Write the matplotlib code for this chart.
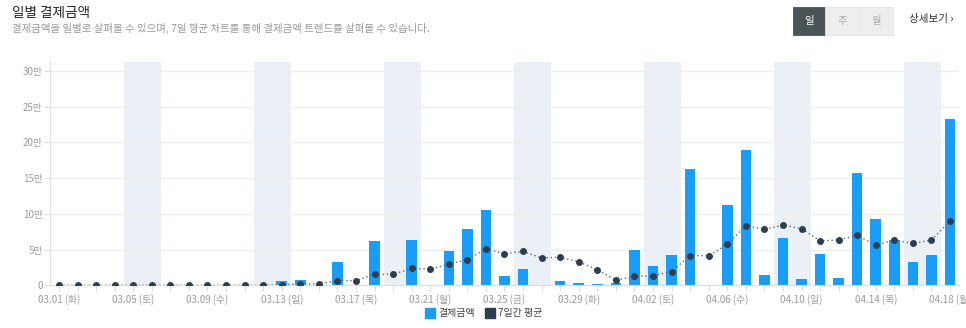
import matplotlib
matplotlib.use("Agg")
import matplotlib.pyplot as plt
from matplotlib.patches import Rectangle
from matplotlib.lines import Line2D
import pandas as pd

plt.rcParams['font.family'] = ['Noto Sans CJK KR', 'DejaVu Sans']

# ---- data -------------------------------------------------------------
start_date = "2022-03-01"
end_date = "2022-04-18"
weekday_names = ["월", "화", "수", "목", "금", "토", "일"]

# daily payment amount (원)
daily_amount = [0, 0, 0, 0, 0, 0, 0, 0, 0, 0, 0, 0,
                6000, 7400, 0, 32700, 0, 62000, 0, 63500, 0, 48000,
                78900, 105500, 13000, 22900, 0, 6500, 3700, 1400, 3700,
                49500, 27500, 42500, 163300, 1000, 112000, 189000, 14000,
                66700, 8400, 43900, 10300, 157300, 92900, 63500, 33100,
                42500, 232400]

# 7-day average (원)
avg_7day = [0, 0, 0, 0, 0, 0, 0, 0, 0, 0, 0, 0,
            857, 1900, 1900, 6600, 6600, 15400, 15400, 23700, 22600,
            29500, 36000, 51100, 44100, 47400, 38300, 39300, 32900,
            21900, 7300, 12500, 13200, 19300, 41700, 41300, 57100,
            83500, 78500, 84100, 79200, 62100, 63500, 69900, 56200,
            63300, 58500, 63400, 90300]

y_ticks = [0, 50000, 100000, 150000, 200000, 250000, 300000]
y_tick_labels = ["0", "5만", "10만", "15만", "20만", "25만", "30만"]

dates = pd.date_range(start_date, end_date, freq="D")
x = list(range(len(dates)))

# ---- figure -------------------------------------------------------------
W, H = 966, 328
fig = plt.figure(figsize=(W / 100, H / 100), dpi=100)


def fx(px):
    return px / W


def fy(py):
    return 1 - py / H


ax = fig.add_axes([fx(49.7), fy(285.3), (959.3 - 49.7) / W, (285.3 - 62) / H])

# weekend bands (Sat + Sun)
for i, d in enumerate(dates):
    if d.weekday() == 5:
        ax.axvspan(i - 0.5, i + 1.5, color="#ebf0f6", zorder=0, lw=0)

ax.bar(x, daily_amount, width=0.57, color="#189ef8", zorder=2)
ax.plot(x, avg_7day, linestyle=(0, (1, 2)), color="#5c6b7a", lw=1.0, zorder=3)
ax.plot(x, avg_7day, linestyle="none", marker="o", markersize=4.0,
        color="#2c3e50", zorder=4)

ax.set_xlim(-0.5, len(dates) - 0.5)
ax.set_ylim(0, 312500)

ax.set_yticks(y_ticks)
ax.set_yticklabels(y_tick_labels)
ax.yaxis.grid(True, color="#eeeeee", lw=0.9, zorder=0.5)
ax.set_axisbelow(True)

label_idx = list(range(0, len(dates), 4))
ax.set_xticks(label_idx)
ax.set_xticklabels([f"{dates[i].strftime('%m.%d')} ({weekday_names[dates[i].weekday()]})"
                    for i in label_idx])
ax.set_xticks(x, minor=True)

ax.tick_params(axis="both", which="both", colors="#dddddd", length=4, width=0.8)
ax.tick_params(axis="both", which="major", labelcolor="#9a9a9a", labelsize=7, pad=2)
ax.tick_params(axis="y", which="major", pad=1)

for side in ("top", "right"):
    ax.spines[side].set_visible(False)
ax.spines["left"].set_color("#e0e0e0")
ax.spines["bottom"].set_color("#dddddd")

# ---- legend -------------------------------------------------------------
handles = [
    Line2D([], [], marker="s", linestyle="none", color="#189ef8", markersize=6.5),
    Line2D([], [], marker="s", linestyle="none", color="#2c3e50", markersize=6.5),
]
fig.legend(handles, ["결제금액", "7일간 평균"], loc="center",
           bbox_to_anchor=(fx(484), fy(313)), ncol=2, frameon=False,
           fontsize=7.2, handlelength=0.8, handletextpad=0.4,
           columnspacing=1.1, labelcolor="#444444")

# ---- header ---------------------------------------------------------------
fig.text(fx(12), fy(13), "일별 결제금액", fontsize=9.8, color="#222222",
         va="center", ha="left")
fig.text(fx(12), fy(28.5),
         "결제금액을 일별로 살펴볼 수 있으며, 7일 평균 차트를 통해 결제금액 트렌드를 살펴볼 수 있습니다.",
         fontsize=7.5, color="#999999", va="center", ha="left")

# period toggle buttons
btn_top, btn_bot = 6.7, 35.3
buttons = [("일", 792.7, 825.3, "#4b5457", "#ffffff"),
           ("주", 825.3, 859.0, "#eeeeee", "#aaaaaa"),
           ("월", 859.0, 892.7, "#eeeeee", "#aaaaaa")]
for label, x0, x1, bg, fg in buttons:
    fig.add_artist(Rectangle((fx(x0), fy(btn_bot)), fx(x1 - x0), (btn_bot - btn_top) / H,
                             transform=fig.transFigure, facecolor=bg,
                             edgecolor="#e4e4e4" if bg == "#eeeeee" else bg, lw=0.6))
    fig.text(fx((x0 + x1) / 2), fy(21), label, fontsize=7.5, color=fg,
             ha="center", va="center")

fig.text(fx(909), fy(19), "상세보기 ›", fontsize=7.6, color="#333333",
         ha="left", va="center")

fig.savefig("out.png", dpi=100)
